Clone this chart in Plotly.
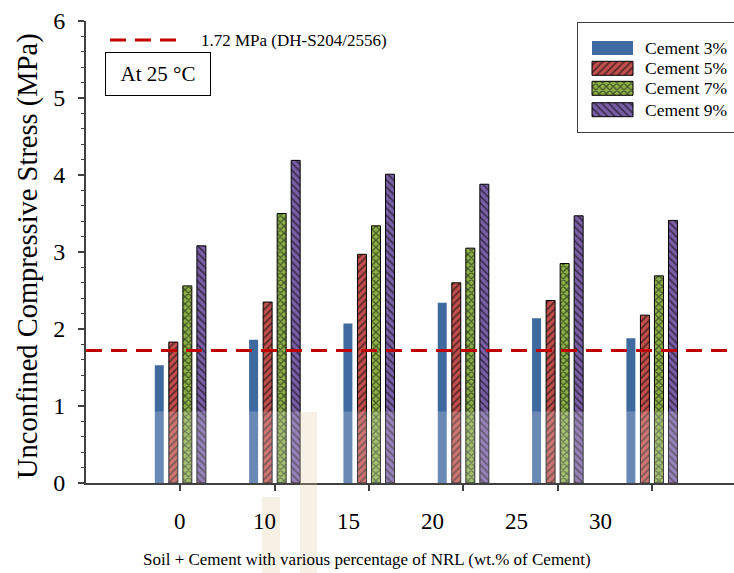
import plotly.graph_objects as go

# ---------------- data ----------------
categories = ["0", "10", "15", "20", "25", "30"]
series_names = ["Cement 3%", "Cement 5%", "Cement 7%", "Cement 9%"]
cement3 = [1.53, 1.86, 2.07, 2.34, 2.14, 1.88]
cement5 = [1.83, 2.35, 2.97, 2.60, 2.37, 2.18]
cement7 = [2.56, 3.50, 3.34, 3.05, 2.85, 2.69]
cement9 = [3.08, 4.19, 4.01, 3.88, 3.47, 3.41]
standard_value = 1.72
standard_label = "1.72 MPa (DH-S204/2556)"
condition_label = "At 25 °C"
x_title = "Soil + Cement with various percentage of NRL (wt.% of Cement)"
y_title = "Unconfined Compressive Stress (MPa)"
y_ticks = [0, 1, 2, 3, 4, 5, 6]

# ---------------- styling ----------------
FONT = "Liberation Serif"
W, H = 734, 573
ML, MR, MT, MB = 86, 0, 21, 90
plot_w = W - ML - MR
plot_h = H - MT - MB

xpos = list(range(1, len(categories) + 1))
x_range = [0, 6.87]

styles = [
    dict(color="#3F6AA0", pattern=None),
    dict(color="#C0504D", pattern=dict(shape="/", fgcolor="black", bgcolor="#C0504D", size=5, solidity=0.35)),
    dict(color="#8DB04A", pattern=dict(shape="x", fgcolor="black", bgcolor="#8DB04A", size=5, solidity=0.45)),
    dict(color="#7B5FA6", pattern=dict(shape="\\", fgcolor="black", bgcolor="#7B5FA6", size=5, solidity=0.35)),
]


def make_marker(st):
    marker = dict(color=st["color"])
    if st["pattern"] is None:
        marker["line"] = dict(width=0)
    else:
        marker["pattern"] = st["pattern"]
        marker["line"] = dict(color="black", width=1)
    return marker


fig = go.Figure()
for name, vals, st in zip(series_names, [cement3, cement5, cement7, cement9], styles):
    fig.add_trace(go.Bar(x=xpos, y=vals, name=name, marker=make_marker(st), showlegend=False))


def px_x(p):
    return (p - ML) / plot_w


def px_y(p):
    return (H - MB - p) / plot_h


# ---- custom legend (wide patterned swatches like the original) ----
LEG_L, LEG_T, LEG_B = 578, 23, 132
leg_rows = [25, 45.3, 65.3, 86.7]       # row centres, px below legend top
sw_x0, sw_len, sw_h = 14, 41, 14        # swatch start/length/height in px
for name, st, row in zip(series_names, styles, leg_rows):
    fig.add_trace(go.Bar(x=[sw_len], base=[sw_x0], y=[row], orientation="h", width=[sw_h],
                         marker=make_marker(st), xaxis="x3", yaxis="y3",
                         showlegend=False, hoverinfo="skip", name=name))

shapes = [
    # legend box
    dict(type="rect", xref="paper", yref="paper", x0=px_x(LEG_L), x1=px_x(W + 5),
         y0=px_y(LEG_B), y1=px_y(LEG_T), line=dict(color="#404040", width=2),
         fillcolor="white", layer="below"),
    # standard line
    dict(type="line", xref="paper", x0=0, x1=1, yref="y", y0=standard_value, y1=standard_value,
         line=dict(color="#C00000", width=3, dash="16px,9px"), layer="above"),
    # legend sample of the standard line
    dict(type="line", xref="paper", x0=px_x(110), x1=px_x(178), yref="paper", y0=px_y(40), y1=px_y(40),
         line=dict(color="#C00000", width=3, dash="16px,9px")),
    # faint watermark overlay
    dict(type="rect", xref="paper", x0=px_x(140), x1=px_x(700), yref="y", y0=0, y1=0.93,
         fillcolor="rgba(255,255,255,0.22)", line=dict(width=0), layer="above"),
    dict(type="rect", xref="paper", x0=px_x(300), x1=px_x(317), yref="paper", y0=px_y(573), y1=px_y(412),
         fillcolor="rgba(222,200,160,0.28)", line=dict(width=0), layer="above"),
    dict(type="rect", xref="paper", x0=px_x(262), x1=px_x(280), yref="paper", y0=px_y(573), y1=px_y(497),
         fillcolor="rgba(222,200,160,0.28)", line=dict(width=0), layer="above"),
]

annotations = [
    dict(text=standard_label, xref="paper", yref="paper", x=px_x(199), y=px_y(40),
         xanchor="left", yanchor="middle", showarrow=False,
         font=dict(family=FONT, size=17, color="black")),
    dict(text=condition_label, xref="paper", yref="paper", x=px_x(157.5), y=px_y(74),
         xanchor="center", yanchor="middle", showarrow=False, width=100, height=38,
         bordercolor="black", borderwidth=1, borderpad=2, bgcolor="white",
         font=dict(family=FONT, size=21, color="black")),
    dict(text=x_title, xref="paper", yref="paper", x=px_x(367), y=px_y(559),
         xanchor="center", yanchor="middle", showarrow=False,
         font=dict(family=FONT, size=17, color="black")),
    dict(text=y_title, xref="paper", yref="paper", x=px_x(28), y=px_y(256),
         xanchor="center", yanchor="middle", showarrow=False, textangle=-90,
         font=dict(family=FONT, size=28.5, color="black")),
]

for name, row in zip(series_names, leg_rows):
    annotations.append(dict(text=name, xref="paper", yref="paper", x=px_x(LEG_L + 65),
                            y=px_y(LEG_T + row), xanchor="left", yanchor="middle",
                            showarrow=False, font=dict(family=FONT, size=17.5, color="black")))

# category labels (placed as in the original, drifting left of the tick marks)
label_step = 84 / 94.3
for i, lab in enumerate(categories):
    annotations.append(dict(text=lab, xref="x", yref="paper", x=1 + i * label_step, y=px_y(521),
                            xanchor="center", yanchor="middle", showarrow=False,
                            font=dict(family=FONT, size=23, color="black")))

fig.update_layout(
    width=W, height=H,
    margin=dict(l=ML, r=MR, t=MT, b=MB),
    paper_bgcolor="white", plot_bgcolor="white",
    barmode="group", bargap=0.405, bargroupgap=0.36,
    font=dict(family=FONT, color="black"),
    showlegend=False,
    shapes=shapes,
    annotations=annotations,
    xaxis=dict(range=x_range, tickvals=xpos, showticklabels=False, ticks="outside",
               ticklen=6, tickcolor="#404040", tickwidth=1.5, showline=True,
               linecolor="#404040", linewidth=2, showgrid=False, zeroline=False, fixedrange=True),
    yaxis=dict(range=[0, 6], tickvals=y_ticks, ticks="outside", ticklen=6, tickcolor="#404040",
               tickwidth=1.5, showline=True, linecolor="#404040", linewidth=2, showgrid=False,
               zeroline=False, tickfont=dict(family=FONT, size=24, color="black"),
               ticklabelstandoff=8,
               minor=dict(dtick=0.2, ticks="outside", ticklen=3, tickcolor="#404040", tickwidth=1)),
    xaxis3=dict(domain=[px_x(LEG_L), 1], range=[0, W - LEG_L], visible=False, fixedrange=True,
                anchor="y3"),
    yaxis3=dict(domain=[px_y(LEG_B), px_y(LEG_T)], range=[LEG_B - LEG_T, 0], visible=False,
                fixedrange=True, anchor="x3"),
)

fig.write_html("out.html")
